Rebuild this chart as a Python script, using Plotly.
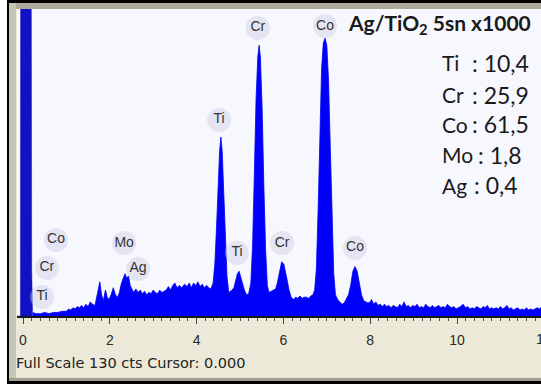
import plotly.graph_objects as go

W, H = 541, 385

# ---- data ----
zero_kev = [-0.14, -0.06, -0.05, 0.0, 0.10, 0.18, 0.20, 0.22]
zero_cts = [0, 0, 300, 300, 300, 300, 20, 2]

energy_kev = [0.22, 0.3, 0.4, 0.5, 0.6, 0.7, 0.8, 0.9, 1.0, 1.05, 1.1, 1.15, 1.2, 1.25, 1.3, 1.35, 1.4, 1.45,
              1.5, 1.55, 1.6, 1.66, 1.72, 1.77, 1.81, 1.85, 1.90, 1.94, 1.98, 2.03, 2.08, 2.13, 2.18, 2.22,
              2.27, 2.31, 2.35, 2.39, 2.43, 2.47, 2.50, 2.55, 2.6, 2.65, 2.7, 2.75, 2.8, 2.85, 2.9, 2.95,
              3.0, 3.05, 3.1, 3.15, 3.2, 3.25, 3.3, 3.35, 3.4, 3.45, 3.5, 3.55, 3.6, 3.66, 3.72, 3.78,
              3.83, 3.88, 3.93, 3.98, 4.03, 4.08, 4.13, 4.18, 4.23, 4.28, 4.33, 4.38, 4.42, 4.46, 4.50,
              4.53, 4.56, 4.59, 4.62, 4.66, 4.70, 4.74, 4.78, 4.82, 4.86, 4.90, 4.94, 4.98, 5.02, 5.06,
              5.10, 5.15, 5.20, 5.25, 5.29, 5.33, 5.37, 5.41, 5.44, 5.47, 5.51, 5.55, 5.59, 5.63, 5.67,
              5.72, 5.77, 5.82, 5.86, 5.91, 5.96, 6.01, 6.05, 6.09, 6.13, 6.18, 6.23, 6.28, 6.33, 6.38,
              6.43, 6.48, 6.53, 6.58, 6.63, 6.68, 6.72, 6.76, 6.80, 6.84, 6.88, 6.92, 6.96, 7.00, 7.04,
              7.08, 7.12, 7.16, 7.20, 7.25, 7.30, 7.35, 7.40, 7.45, 7.50, 7.55, 7.60, 7.65, 7.70, 7.75,
              7.80, 7.85, 7.90, 7.95, 8.0, 8.03, 8.08, 8.13, 8.18, 8.23, 8.28, 8.33, 8.38, 8.43, 8.48,
              8.53, 8.58, 8.63, 8.68, 8.73, 8.78, 8.83, 8.88, 8.93, 8.98, 9.03, 9.08, 9.13, 9.18, 9.23,
              9.28, 9.33, 9.38, 9.43, 9.48, 9.53, 9.58, 9.63, 9.68, 9.73, 9.78, 9.83, 9.88, 9.93, 9.98,
              10.03, 10.08, 10.14, 10.2, 10.25, 10.3, 10.35, 10.4, 10.45, 10.5, 10.55, 10.6, 10.65, 10.7,
              10.75, 10.8, 10.85, 10.9, 10.95, 11.0, 11.05, 11.1, 11.15, 11.2, 11.25, 11.3, 11.35, 11.4,
              11.45, 11.5, 11.55, 11.6, 11.65, 11.7, 11.75, 11.8, 11.85, 11.9, 11.95]
counts = [1.5, 1, 1, 1.5, 1, 1.5, 1.5, 2, 2, 3, 2.5, 3.5, 3, 4, 3.5, 4.5, 3.5, 5,
          4, 6, 5, 4.5, 10, 14.5, 9, 6.5, 11, 8, 7, 9, 12, 9, 8, 10,
          14, 16, 18, 16, 17, 13, 12, 10, 11.5, 10, 11, 9.5, 10.5, 9, 10, 9.5,
          11, 10, 9.5, 11, 10, 10.5, 11, 12.5, 11, 13, 14, 12, 13, 12, 13.5, 12.5,
          14, 12, 14, 13, 14.5, 12.5, 13.5, 12, 13, 12, 11.5, 14, 22, 38, 58,
          70, 76, 70, 55, 34, 17, 10, 10.5, 11, 12, 15, 18, 19, 16, 13,
          11, 9, 9.5, 14, 30, 60, 92, 110, 115, 110, 88, 55, 28, 13, 10,
          10.5, 11, 11.5, 14, 19, 23, 22, 19, 15, 11, 8, 7, 8, 7.5, 8.5,
          7.5, 8, 8, 7.5, 8.5, 9, 11, 20, 45, 78, 105, 116, 118, 115, 100,
          72, 40, 18, 9, 7, 6, 5, 5.5, 7, 9, 13, 19, 21, 19, 14,
          9, 6.5, 6, 5.5, 6, 7, 5, 6, 4.5, 5, 4, 5, 4, 4.5, 3.5,
          4.5, 4, 3.5, 5, 4, 6, 4, 4.5, 3.5, 4.5, 4, 5, 3.5, 4, 3.5,
          5, 4, 3.5, 4.5, 3.5, 4, 4.5, 3.5, 4, 3.5, 5, 4, 3.5, 4, 3,
          3.5, 4, 5, 3.5, 4, 3, 3.5, 3, 4, 3.5, 3, 4, 3.5, 4.5,
          3, 3.5, 3, 3.5, 3, 4, 3, 3.5, 4.5, 3, 3.5, 2.5, 3, 3.5,
          2.5, 3, 2.5, 3.5, 2.5, 3, 2.5, 3, 3.5, 3, 4]

label_text = ["Cr", "Co", "Ti", "Co", "Cr", "Ti", "Mo", "Ag", "Ti", "Cr", "Co"]
label_kev = [5.41, 6.96, 4.52, 0.76, 0.55, 0.44, 2.33, 2.65, 4.93, 5.97, 7.65]
label_cts = [122.4, 123.2, 83.3, 32.3, 20.4, 8.1, 31.0, 20.0, 26.8, 31.0, 28.9]

comp_elements = ["Ti", "Cr", "Co", "Mo", "Ag"]
comp_values = [": 10,4", ": 25,9", ": 61,5", ": 1,8", ": 0,4"]

x_ticks = [0, 2, 4, 6, 8, 10, 12]
title_text = "<b>Ag/TiO<sub>2</sub> 5sn x1000</b>"
status_text = "Full Scale 130 cts Cursor: 0.000"

KEV_PX = 43.4   # pixels per keV on the energy axis
X0_PX = 23      # pixel of 0 keV


def px(x):
    return x / W


def py(y):
    return 1 - y / H


fig = go.Figure()

fig.add_trace(go.Scatter(x=zero_kev, y=zero_cts, mode="lines", fill="tozeroy",
                         line=dict(color="#1212C4", width=0.5), fillcolor="#1212C4",
                         hoverinfo="skip", showlegend=False))
fig.add_trace(go.Scatter(x=energy_kev, y=counts, mode="lines", fill="tozeroy",
                         line=dict(color="#0000FA", width=0.8), fillcolor="#0000FA",
                         hoverinfo="skip", showlegend=False))
fig.add_trace(go.Scatter(x=label_kev, y=label_cts, mode="markers+text", text=label_text,
                         textposition="middle center",
                         textfont=dict(family="Arial", size=14, color="#333333"),
                         marker=dict(size=24, color="rgba(205,205,228,0.45)", line=dict(width=0)),
                         hoverinfo="skip", showlegend=False))

shapes = [
    dict(type="rect", xref="paper", yref="paper", x0=px(7), x1=px(545), y0=py(384), y1=py(0),
         fillcolor="#000000", line=dict(width=0), layer="below"),
    dict(type="rect", xref="paper", yref="paper", x0=px(9), x1=px(545), y0=py(381), y1=py(3),
         fillcolor="#ECE9D8", line=dict(width=0), layer="below"),
    dict(type="rect", xref="paper", yref="paper", x0=px(9), x1=px(545), y0=py(9), y1=py(3),
         fillcolor="#ADA99B", line=dict(width=0), layer="below"),
    dict(type="rect", xref="paper", yref="paper", x0=px(9), x1=px(16), y0=py(378), y1=py(3),
         fillcolor="#C9C5B5", line=dict(width=0), layer="below"),
    dict(type="rect", xref="paper", yref="paper", x0=px(9), x1=px(545), y0=py(381), y1=py(378),
         fillcolor="#A19E92", line=dict(width=0), layer="below"),
    dict(type="rect", xref="paper", yref="paper", x0=px(17), x1=px(545), y0=py(316), y1=py(9),
         fillcolor="#F7F7FE", line=dict(width=0), layer="below"),
]

annotations = [
    dict(xref="paper", yref="paper", x=px(346), y=py(24), xanchor="left", yanchor="middle",
         text=title_text, showarrow=False, font=dict(family="Lato", size=21, color="#1a1a1a")),
    dict(xref="paper", yref="paper", x=px(14), y=py(363), xanchor="left", yanchor="middle",
         text=status_text, showarrow=False, font=dict(family="DejaVu Sans", size=14.5, color="#222222")),
    # last tick label (12), partly beyond the right edge of the picture
    dict(xref="paper", yref="paper", x=px(X0_PX + x_ticks[-1] * KEV_PX), y=py(339),
         xanchor="center", yanchor="middle", text=str(x_ticks[-1]), showarrow=False,
         font=dict(family="Arial", size=14, color="#2a2a2a")),
]
comp_y = [63, 94.5, 124.5, 154.5, 185]
colon_x = [470, 470, 470, 476, 472]
for el, val, yy, cx in zip(comp_elements, comp_values, comp_y, colon_x):
    annotations.append(dict(xref="paper", yref="paper", x=px(440), y=py(yy), xanchor="left",
                            yanchor="middle", text=el, showarrow=False,
                            font=dict(family="Lato", size=21, color="#1a1a1a")))
    annotations.append(dict(xref="paper", yref="paper", x=px(cx), y=py(yy), xanchor="left",
                            yanchor="middle", text=val, showarrow=False,
                            font=dict(family="Lato", size=23, color="#1a1a1a")))

fig.update_layout(
    width=W, height=H, margin=dict(l=0, r=0, t=0, b=0),
    paper_bgcolor="#FFFFFF", plot_bgcolor="rgba(0,0,0,0)",
    shapes=shapes, annotations=annotations, showlegend=False,
    xaxis=dict(domain=[px(17), 1], range=[(17 - X0_PX) / KEV_PX, (541 - X0_PX) / KEV_PX],
               tickvals=x_ticks[:-1], ticktext=[str(t) for t in x_ticks[:-1]],
               ticks="outside", ticklen=6, tickwidth=1, tickcolor="#444444",
               minor=dict(dtick=0.2, ticks="outside", ticklen=3, tickcolor="#555555", tickwidth=1),
               showline=True, linecolor="#1a1a1a", linewidth=2, showgrid=False, zeroline=False,
               tickfont=dict(family="Arial", size=14, color="#2a2a2a"), ticklabelstandoff=4,
               fixedrange=True),
    yaxis=dict(domain=[py(316), py(9)], range=[0, 130 * 307 / 306], visible=False,
               showgrid=False, zeroline=False, fixedrange=True),
)

fig.write_html("out.html", config={"displayModeBar": False},
               post_script="document.body.style.margin='0px';document.body.style.overflow='hidden';")
